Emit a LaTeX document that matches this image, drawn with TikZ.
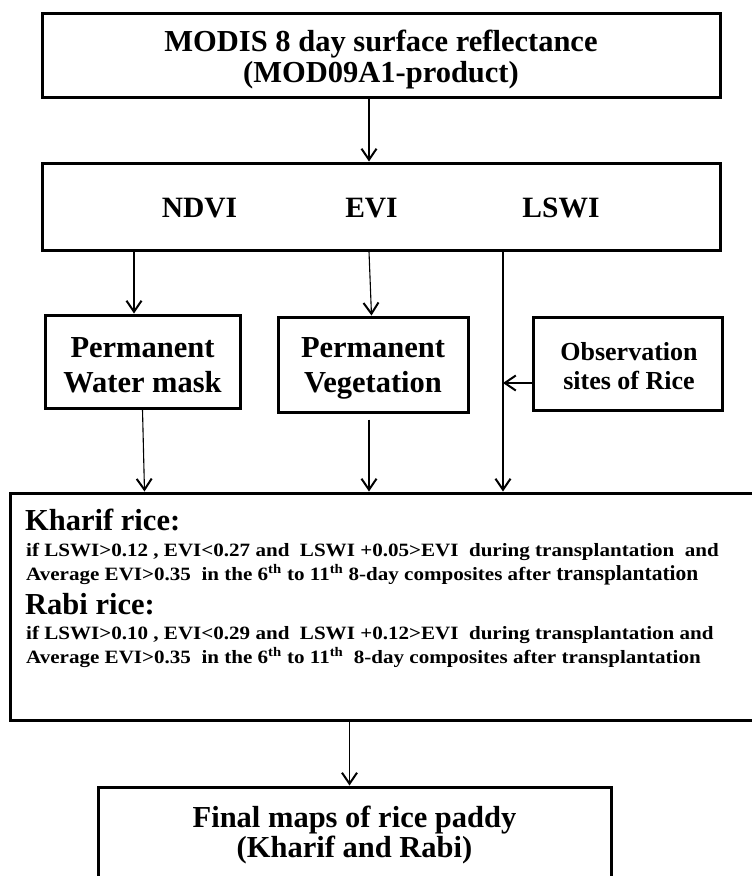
\documentclass[tikz,border=0pt]{standalone}
\usepackage{fontspec}
\setmainfont{Liberation Serif}
\newfontfamily\widefont{Liberation Serif}[FakeStretch=1.12]
\usetikzlibrary{arrows.meta,calc}
\begin{document}
\begin{tikzpicture}[x=1pt,y=-1pt,
  box/.style={draw, line width=3pt, rectangle, inner sep=0pt},
  arr/.style={line width=1.1pt, -{Straight Barb[length=11pt,width=15pt,line width=2pt]}},
  lbl/.style={inner sep=0pt, anchor=base, font=\fontsize{30.5}{32}\selectfont\bfseries},
  obstxt/.style={inner sep=0pt, anchor=base, font=\fontsize{26}{28}\selectfont\bfseries},
  big/.style={inner sep=0pt, anchor=base west, font=\fontsize{30.5}{32}\selectfont\bfseries},
  small/.style={inner sep=0pt, anchor=base west, font=\widefont\fontsize{18.8}{22}\selectfont\bfseries},
]
\useasboundingbox (0,0) rectangle (752,876);
\clip (0,0) rectangle (752,876);
% boxes
\node[box, minimum width=678pt, minimum height=84pt] (modis) at (381,55) {};
\node[lbl] (m1) at (381,51) {MODIS 8 day surface reflectance};
\node[lbl] (m2) at (381,82) {(MOD09A1-product)};
\node[box, minimum width=678pt, minimum height=87pt] (idx) at (381,206.5) {};
\node[lbl, font=\fontsize{29.5}{32}\selectfont\bfseries] (ndvi) at (199.5,217) {NDVI};
\node[lbl, font=\fontsize{29.5}{32}\selectfont\bfseries] (evi) at (371.5,217) {EVI};
\node[lbl, font=\fontsize{29.5}{32}\selectfont\bfseries] (lswi) at (561,217) {LSWI};
\node[box, minimum width=195pt, minimum height=93pt] (water) at (142.5,361.5) {};
\node[lbl] (w1) at (142.5,357) {Permanent};
\node[lbl] (w2) at (142.5,392) {Water mask};
\node[box, minimum width=190pt, minimum height=95pt] (veg) at (373,364.5) {};
\node[lbl] (v1) at (373,357) {Permanent};
\node[lbl] (v2) at (373,392) {Vegetation};
\node[box, minimum width=189pt, minimum height=93pt] (obs) at (627.5,363.5) {};
\node[obstxt] (o1) at (629,360) {Observation};
\node[obstxt] (o2) at (629,389) {sites of Rice};
\node[box, minimum width=760pt, minimum height=227pt] (rule) at (390,606.5) {};
\node[box, minimum width=513pt, minimum height=113pt] (final) at (354.5,843.5) {};
\node[lbl] (fin1) at (354.5,827) {Final maps of rice paddy};
\node[lbl] (fin2) at (354.5,857) {(Kharif and Rabi)};
% rule texts
\node[big] (kh) at (25,530) {Kharif rice:};
\node[small] (kh1) at (26,556) {if LSWI>0.12 , EVI<0.27 and\ \ LSWI +0.05>EVI\ \ during transplantation\ \ and};
\node[small] (kh2) at (26,580) {Average EVI>0.35\ \ in the 6\textsuperscript{th} to 11\textsuperscript{th} 8-day composites after {\rmfamily\fontsize{21.5}{22}\selectfont transplantation}};
\node[big] (rb) at (25,614) {Rabi rice:};
\node[small] (rb1) at (26,639) {if LSWI>0.10 , EVI<0.29 and\ \ LSWI +0.12>EVI\ \ during transplantation and};
\node[small] (rb2) at (26,663) {Average EVI>0.35\ \ in the 6\textsuperscript{th} to 11\textsuperscript{th}\ \ 8-day composites after transplantation};
% connectors
\coordinate (lsx) at (503,0);
\coordinate (ndx) at (134,0);
\coordinate (mdx) at (369,0);
\draw[arr] (modis.south -| mdx) -- (idx.north -| mdx);
\draw[arr] (idx.south -| ndx) -- (water.north -| ndx);
\draw[arr] (idx.south -| mdx) -- (veg.north -| evi);
\draw[arr] ($(obs.west)+(0,19.5)$) -- ($(obs.west -| lsx)+(0,19.5)$);
\draw[arr] (water.south) -- ($(rule.north -| water)+(2,0)$);
\draw[arr] ($(veg.south -| mdx)+(0,6)$) -- (rule.north -| mdx);
\draw[arr] (idx.south -| lsx) -- (rule.north -| lsx);
\draw[arr] ($(rule.south -| final)+(-5,0)$) -- ($(final.north)+(-5,0)$);
\end{tikzpicture}
\end{document}
